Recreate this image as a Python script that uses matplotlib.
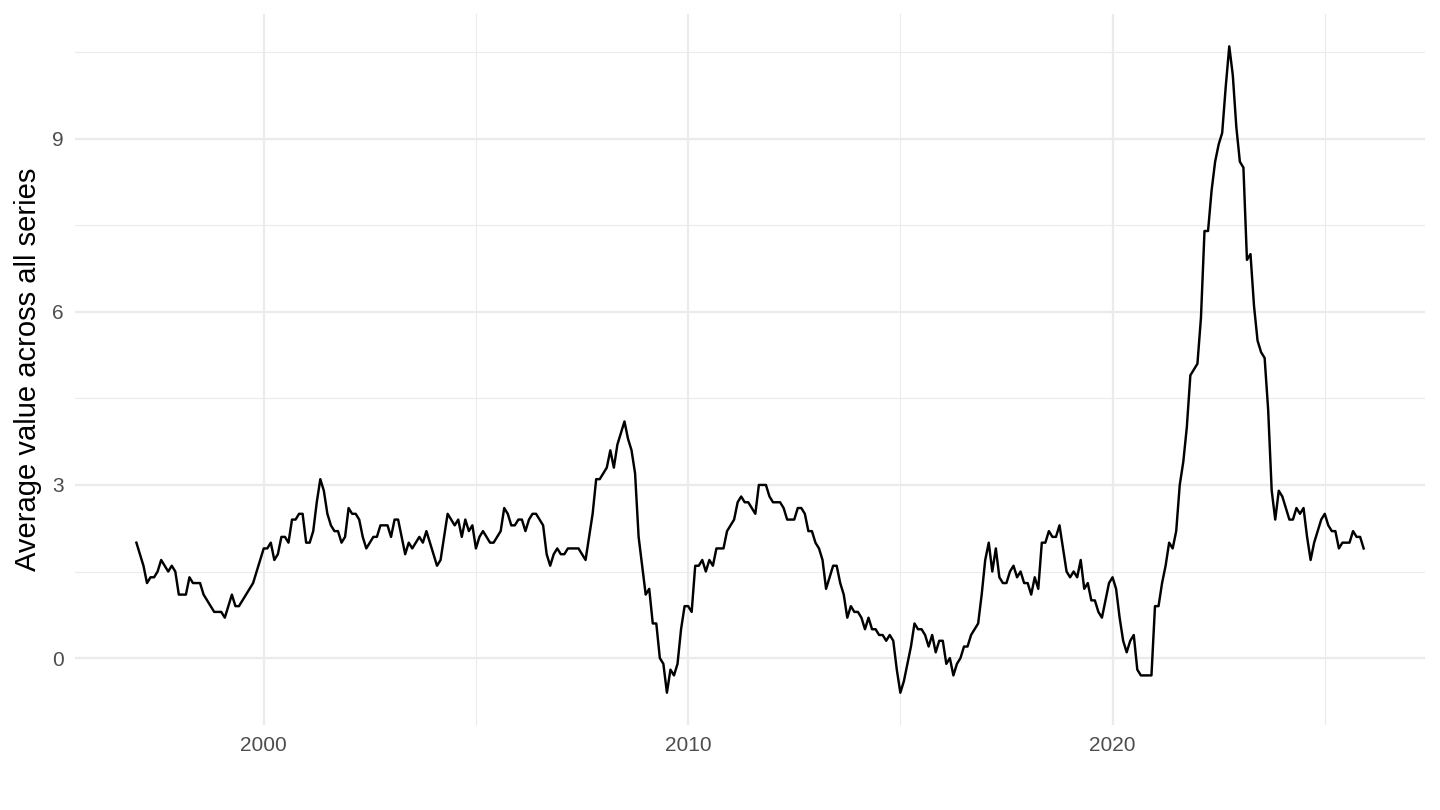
import numpy as np
import pandas as pd
import matplotlib
matplotlib.use("Agg")
import matplotlib.pyplot as plt

plt.rcParams['font.family'] = ['Liberation Sans', 'DejaVu Sans']

# monthly averages, Jan 1997 .. Dec 2025 (one row per year)
values_by_year = {
    1997: [2.0, 1.8, 1.6, 1.3, 1.4, 1.4, 1.5, 1.7, 1.6, 1.5, 1.6, 1.5],
    1998: [1.1, 1.1, 1.1, 1.4, 1.3, 1.3, 1.3, 1.1, 1.0, 0.9, 0.8, 0.8],
    1999: [0.8, 0.7, 0.9, 1.1, 0.9, 0.9, 1.0, 1.1, 1.2, 1.3, 1.5, 1.7],
    2000: [1.9, 1.9, 2.0, 1.7, 1.8, 2.1, 2.1, 2.0, 2.4, 2.4, 2.5, 2.5],
    2001: [2.0, 2.0, 2.2, 2.7, 3.1, 2.9, 2.5, 2.3, 2.2, 2.2, 2.0, 2.1],
    2002: [2.6, 2.5, 2.5, 2.4, 2.1, 1.9, 2.0, 2.1, 2.1, 2.3, 2.3, 2.3],
    2003: [2.1, 2.4, 2.4, 2.1, 1.8, 2.0, 1.9, 2.0, 2.1, 2.0, 2.2, 2.0],
    2004: [1.8, 1.6, 1.7, 2.1, 2.5, 2.4, 2.3, 2.4, 2.1, 2.4, 2.2, 2.3],
    2005: [1.9, 2.1, 2.2, 2.1, 2.0, 2.0, 2.1, 2.2, 2.6, 2.5, 2.3, 2.3],
    2006: [2.4, 2.4, 2.2, 2.4, 2.5, 2.5, 2.4, 2.3, 1.8, 1.6, 1.8, 1.9],
    2007: [1.8, 1.8, 1.9, 1.9, 1.9, 1.9, 1.8, 1.7, 2.1, 2.5, 3.1, 3.1],
    2008: [3.2, 3.3, 3.6, 3.3, 3.7, 3.9, 4.1, 3.8, 3.6, 3.2, 2.1, 1.6],
    2009: [1.1, 1.2, 0.6, 0.6, 0.0, -0.1, -0.6, -0.2, -0.3, -0.1, 0.5, 0.9],
    2010: [0.9, 0.8, 1.6, 1.6, 1.7, 1.5, 1.7, 1.6, 1.9, 1.9, 1.9, 2.2],
    2011: [2.3, 2.4, 2.7, 2.8, 2.7, 2.7, 2.6, 2.5, 3.0, 3.0, 3.0, 2.8],
    2012: [2.7, 2.7, 2.7, 2.6, 2.4, 2.4, 2.4, 2.6, 2.6, 2.5, 2.2, 2.2],
    2013: [2.0, 1.9, 1.7, 1.2, 1.4, 1.6, 1.6, 1.3, 1.1, 0.7, 0.9, 0.8],
    2014: [0.8, 0.7, 0.5, 0.7, 0.5, 0.5, 0.4, 0.4, 0.3, 0.4, 0.3, -0.2],
    2015: [-0.6, -0.4, -0.1, 0.2, 0.6, 0.5, 0.5, 0.4, 0.2, 0.4, 0.1, 0.3],
    2016: [0.3, -0.1, 0.0, -0.3, -0.1, 0.0, 0.2, 0.2, 0.4, 0.5, 0.6, 1.1],
    2017: [1.7, 2.0, 1.5, 1.9, 1.4, 1.3, 1.3, 1.5, 1.6, 1.4, 1.5, 1.3],
    2018: [1.3, 1.1, 1.4, 1.2, 2.0, 2.0, 2.2, 2.1, 2.1, 2.3, 1.9, 1.5],
    2019: [1.4, 1.5, 1.4, 1.7, 1.2, 1.3, 1.0, 1.0, 0.8, 0.7, 1.0, 1.3],
    2020: [1.4, 1.2, 0.7, 0.3, 0.1, 0.3, 0.4, -0.2, -0.3, -0.3, -0.3, -0.3],
    2021: [0.9, 0.9, 1.3, 1.6, 2.0, 1.9, 2.2, 3.0, 3.4, 4.0, 4.9, 5.0],
    2022: [5.1, 5.9, 7.4, 7.4, 8.1, 8.6, 8.9, 9.1, 9.9, 10.6, 10.1, 9.2],
    2023: [8.6, 8.5, 6.9, 7.0, 6.1, 5.5, 5.3, 5.2, 4.3, 2.9, 2.4, 2.9],
    2024: [2.8, 2.6, 2.4, 2.4, 2.6, 2.5, 2.6, 2.1, 1.7, 2.0, 2.2, 2.4],
    2025: [2.5, 2.3, 2.2, 2.2, 1.9, 2.0, 2.0, 2.0, 2.2, 2.1, 2.1, 1.9],
}

x_ticks = [2000, 2010, 2020]
x_minor = [1995, 2005, 2015, 2025]
y_ticks = [0, 3, 6, 9]
y_minor = [1.5, 4.5, 7.5, 10.5]
y_title = "Average value across all series"

rows = []
for year, vals in values_by_year.items():
    for m, v in enumerate(vals):
        rows.append((year + m / 12, v))
df = pd.DataFrame(rows, columns=["t", "value"])

fig = plt.figure(figsize=(14.4, 8.1), dpi=100)
ax = fig.add_axes([0.0521, 0.1049, 0.9375, 0.8778])

grid_col = "#EBEBEB"
for xv in x_ticks:
    ax.axvline(xv, color=grid_col, lw=1.6, zorder=0)
for xv in x_minor:
    ax.axvline(xv, color=grid_col, lw=0.8, zorder=0)
for yv in y_ticks:
    ax.axhline(yv, color=grid_col, lw=1.6, zorder=0)
for yv in y_minor:
    ax.axhline(yv, color=grid_col, lw=0.8, zorder=0)

ax.plot(df["t"], df["value"], color="black", lw=1.75, zorder=2)

# ggplot-style 5% expansion
t0, t1 = df["t"].min(), df["t"].max()
v0, v1 = df["value"].min(), df["value"].max()
ax.set_xlim(t0 - 0.05 * (t1 - t0), t1 + 0.05 * (t1 - t0))
ax.set_ylim(v0 - 0.05 * (v1 - v0), v1 + 0.05 * (v1 - v0))

ax.set_xticks(x_ticks)
ax.set_xticklabels([str(x) for x in x_ticks])
ax.set_yticks(y_ticks)
ax.set_yticklabels([str(y) for y in y_ticks])
ax.tick_params(length=0, labelsize=15, labelcolor="#4D4D4D", pad=8)
for s in ax.spines.values():
    s.set_visible(False)
ax.set_ylabel(y_title, fontsize=21, color="black", labelpad=7)

fig.savefig("out.png", dpi=100)
